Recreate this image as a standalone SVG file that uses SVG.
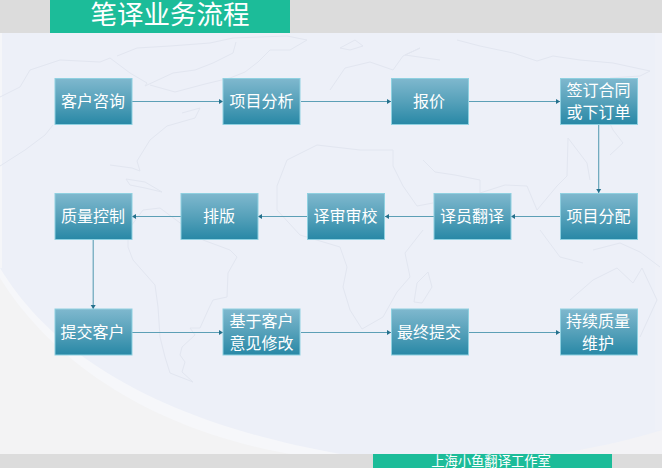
<svg xmlns="http://www.w3.org/2000/svg" width="662" height="468" viewBox="0 0 662 468">
<defs>
<linearGradient id="g" x1="0" y1="0" x2="0" y2="1"><stop offset="0" stop-color="#7FB8CE"/><stop offset="0.5" stop-color="#56A1BA"/><stop offset="1" stop-color="#2888A6"/></linearGradient>
<marker id="a" markerWidth="5" markerHeight="6" refX="4" refY="3" orient="auto" markerUnits="userSpaceOnUse"><path d="M0,0.500 L4,3 L0,5.500 Z" fill="#24708C"/></marker>
</defs>
<style>
.n{fill:url(#g);stroke:#8FD0E0;stroke-width:1}
.t{font-family:"Noto Sans CJK SC","Liberation Sans",sans-serif;fill:#fff;font-size:16px;text-anchor:middle}
.c{stroke:#5C9FB6;stroke-width:1.100;fill:none;marker-end:url(#a)}
.m{fill:none;stroke:#E2E6F0;stroke-width:1;stroke-linejoin:round}
</style>
<rect width="662" height="468" fill="#EDF0F8"/>
<path d="M0,268 C50,350 150,420 340,454 L0,454 Z" fill="#F6F7FA"/>
<path d="M0,278 C50,358 145,428 290,454 L0,454 Z" fill="#F3F3F4"/>
<path d="M662,430 C630,440 590,449 555,454 L662,454 Z" fill="#F3F3F6"/>
<rect x="0" y="33" width="2" height="235" fill="#F5F6F9"/>
<rect x="655" y="33" width="7" height="397" fill="#EFF1F8"/>
<g id="map">
<path class="m" d="M0,97 L20,87 L30,70 L60,60 L100,62 L110,58 L130,73 L147,83 L145,86 L173,73 L195,70 L213,63 L233,53 L236,42"/>
<path class="m" d="M117,56 L137,48 L170,46 L210,43 L233,38 L287,36 L307,40 L290,50 L270,50 L258,62 L245,72 L230,78 L205,84 L175,92 L150,85"/>
<path class="m" d="M182,113 L200,108 L195,118 L167,126 L150,140 L137,161 L140,171 L132,168 L110,165"/>
<path class="m" d="M0,166 L25,150 L45,135 L53,125"/>
<path class="m" d="M126,179 L145,182 L162,192 L145,188 L130,185 Z"/>
<path class="m" d="M128,247 L133,260 L155,285 L158,307 L160,337 L165,357 L170,373 L193,382 L182,372 L185,362 L180,355 L182,347 L195,335 L190,328 L200,328 L209,308 L213,300 L227,297 L228,273 L237,257 L230,250 L203,240 L160,208 L143,210 L128,230 Z"/>
<path class="m" d="M277,186 L287,160 L317,145 L360,150 L393,150 L393,166 L403,186 L417,206 L433,203"/>
<path class="m" d="M277,186 L277,210 L300,235 L340,247 L347,267 L343,287 L350,310 L362,329 L383,317 L397,292 L410,277 L405,253 L423,230"/>
<path class="m" d="M428,272 L417,283 L414,302 L422,303 L432,287 Z"/>
<path class="m" d="M330,90 L345,68 L370,62 L393,70 L403,56 L420,48 L405,55 L440,60"/>
<path class="m" d="M457,40 L480,46 L513,53 L537,61 L553,56 L580,60 L613,63 L650,71 L640,76 L610,78 L600,100 L606,115 L613,130 L623,143 L610,155"/>
<path class="m" d="M423,160 L435,172 L455,175 L480,180 L480,193 L505,185 L527,186 L537,210 L557,186 L567,176 L568,138 L587,163 L590,180"/>
<path class="m" d="M540,230 L560,257 L583,263"/>
<path class="m" d="M593,250 L620,243 L640,252 L660,267"/>
<path class="m" d="M570,300 L593,280 L617,268 L633,283 L642,268 L657,300 L640,337"/>
<path class="m" d="M340,48 L355,40 L363,46 L350,50 Z"/>
</g>
<rect y="0" width="662" height="33" fill="#DCDCDC"/>
<rect x="50" y="0" width="240" height="33" fill="#1CBC99"/>
<text x="170" y="24" font-family="Noto Sans CJK SC,Liberation Sans,sans-serif" font-size="26.500" fill="#fff" text-anchor="middle">笔译业务流程</text>
<rect y="454" width="662" height="14" fill="#DCDCDC"/>
<rect x="373" y="454" width="239" height="14" fill="#1CBC99"/>
<text x="491" y="466" font-family="Noto Sans CJK SC,Liberation Sans,sans-serif" font-size="13.300" fill="#fff" text-anchor="middle">上海小鱼翻译工作室</text>
<g id="connectors">
<line class="c" x1="132" y1="101.500" x2="223" y2="101.500"/>
<line class="c" x1="301" y1="101.500" x2="391" y2="101.500"/>
<line class="c" x1="469" y1="101.500" x2="560" y2="101.500"/>
<line class="c" x1="598.700" y1="124" x2="598.700" y2="193"/>
<line class="c" x1="560" y1="216.500" x2="511" y2="216.500"/>
<line class="c" x1="434" y1="216.500" x2="385" y2="216.500"/>
<line class="c" x1="307" y1="216.500" x2="258" y2="216.500"/>
<line class="c" x1="181" y1="216.500" x2="132" y2="216.500"/>
<line class="c" x1="93.200" y1="240" x2="93.200" y2="309"/>
<line class="c" x1="132" y1="332.500" x2="223" y2="332.500"/>
<line class="c" x1="301" y1="332.500" x2="391" y2="332.500"/>
<line class="c" x1="469" y1="332.500" x2="560" y2="332.500"/>
</g>
<g id="n1"><rect class="n" x="55" y="78.500" width="77" height="46"/><text class="t" x="93" y="107">客户咨询</text></g>
<g id="n2"><rect class="n" x="223" y="78.500" width="77" height="46"/><text class="t" x="261.500" y="107">项目分析</text></g>
<g id="n3"><rect class="n" x="391.500" y="78.500" width="77" height="46"/><text class="t" x="429" y="107">报价</text></g>
<g id="n4"><rect class="n" x="560.500" y="78.500" width="77" height="46"/><text class="t" x="598.500" y="96">签订合同</text><text class="t" x="598.500" y="118">或下订单</text></g>
<g id="n5"><rect class="n" x="560.500" y="193.500" width="77" height="46"/><text class="t" x="598.500" y="222">项目分配</text></g>
<g id="n6"><rect class="n" x="434" y="193.500" width="77" height="46"/><text class="t" x="472" y="222">译员翻译</text></g>
<g id="n7"><rect class="n" x="307.500" y="193.500" width="77" height="46"/><text class="t" x="345.500" y="222">译审审校</text></g>
<g id="n8"><rect class="n" x="181" y="193.500" width="77" height="46"/><text class="t" x="219" y="222">排版</text></g>
<g id="n9"><rect class="n" x="55" y="193.500" width="77" height="46"/><text class="t" x="93" y="222">质量控制</text></g>
<g id="n10"><rect class="n" x="55" y="309" width="77" height="46"/><text class="t" x="92.500" y="337.500">提交客户</text></g>
<g id="n11"><rect class="n" x="223" y="309" width="77" height="46"/><text class="t" x="261.500" y="326.500">基于客户</text><text class="t" x="261.500" y="349">意见修改</text></g>
<g id="n12"><rect class="n" x="391.500" y="309" width="77" height="46"/><text class="t" x="429" y="337.500">最终提交</text></g>
<g id="n13"><rect class="n" x="560.500" y="309" width="77" height="46"/><text class="t" x="598" y="326.500">持续质量</text><text class="t" x="598" y="349">维护</text></g>
</svg>
